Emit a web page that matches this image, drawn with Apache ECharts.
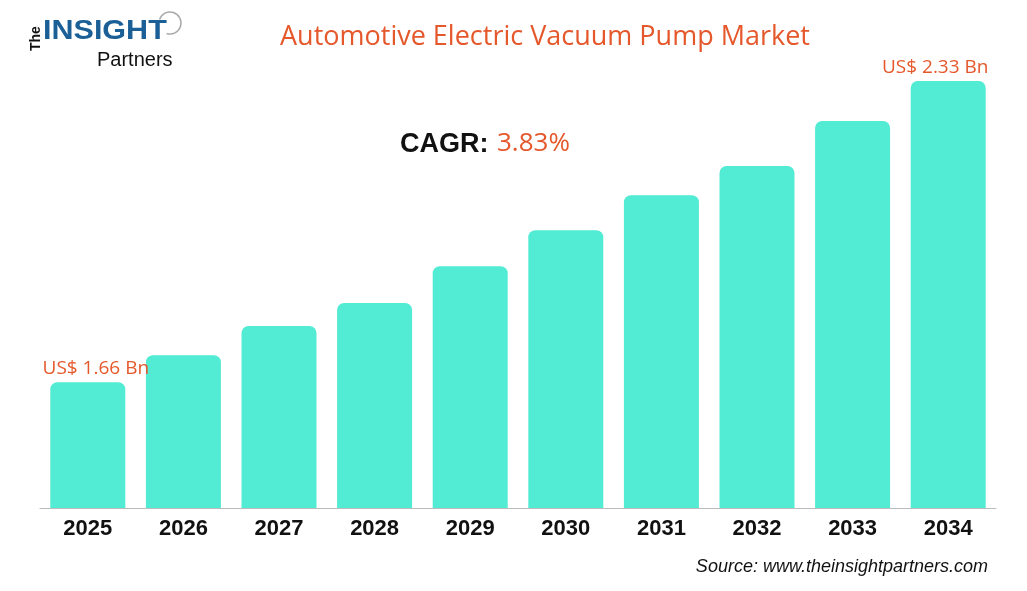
<!DOCTYPE html>
<html>
<head>
<meta charset="utf-8">
<script src="https://cdn.jsdelivr.net/npm/echarts@6/dist/echarts.min.js"></script>
<style>
	html, body { margin: 0; padding: 0; background: #fff; }
	#chart { width: 1027px; height: 591px; }
</style>
</head>
<body>
<div id="chart"></div>
<script>
let years = ["2025", "2026", "2027", "2028", "2029", "2030", "2031", "2032", "2033", "2034"];
let marketSize = [1.66, 1.72, 1.785, 1.836, 1.918, 1.998, 2.076, 2.141, 2.241, 2.33];
let endLabels = ["US$ 1.66 Bn", "", "", "", "", "", "", "", "", "US$ 2.33 Bn"];

let orange = "#E5582B";
let chart = echarts.init(document.getElementById("chart"));

// 只在首尾两根柱子上显示数值
let barData = marketSize.map(function (v, i) {
	let item = { value: v };
	if (endLabels[i]) {
		item.label = {
			show: true,
			position: "top",
			distance: 4,
			offset: [i === 0 ? 8 : -13, 0],
			formatter: endLabels[i],
			color: orange,
			fontSize: 19,
			fontFamily: "Open Sans"
		};
	}
	return item;
});

let option = {
	animation: false,
	backgroundColor: "#fff",
	title: {
		text: "Automotive Electric Vacuum Pump Market",
		left: 540,
		textAlign: "center",
		top: 19,
		textStyle: {
			color: orange,
			fontSize: 27,
			fontWeight: "normal",
			fontFamily: "Open Sans"
		}
	},
	grid: { left: 40, right: 31, top: 81, bottom: 83 },
	xAxis: {
		type: "category",
		data: years,
		axisTick: { show: false },
		axisLine: { lineStyle: { color: "#bbb", width: 1 } },
		axisLabel: {
			color: "#111",
			fontSize: 22,
			fontWeight: "bold",
			fontFamily: "Liberation Sans",
			margin: 10
		}
	},
	yAxis: {
		type: "value",
		min: 1.38,
		max: 2.33,
		show: false,
		splitLine: { show: false }
	},
	series: [{
		type: "bar",
		data: barData,
		barWidth: 75,
		itemStyle: { color: "#52EBD3", borderRadius: [7, 7, 0, 0] }
	}],
	graphic: [
		{
			type: "text",
			left: 400, top: 131,
			style: {
				text: "CAGR:",
				fill: "#111",
				font: "bold 27px 'Liberation Sans'"
			}
		},
		{
			type: "text",
			left: 497, top: 131,
			style: {
				text: "3.83%",
				fill: orange,
				font: "26px 'Open Sans'"
			}
		},
		{
			type: "text",
			right: 39, top: 558,
			style: {
				text: "Source: www.theinsightpartners.com",
				fill: "#111",
				font: "italic 18px 'Liberation Sans'"
			}
		},
		// logo
		{
			type: "text",
			x: 43, y: 51,
			rotation: Math.PI / 2,
			style: {
				text: "The",
				fill: "#111",
				font: "bold 14px 'Liberation Sans'",
				textAlign: "left",
				textVerticalAlign: "bottom"
			}
		},
		{
			type: "text",
			x: 43, y: 17,
			scaleX: 1.09,
			style: {
				text: "INSIGHT",
				fill: "#1B5F97",
				font: "bold 28px 'Liberation Sans'",
				textAlign: "left",
				textVerticalAlign: "top"
			}
		},
		{
			type: "arc",
			shape: { cx: 170, cy: 23, r: 11, startAngle: -Math.PI * 0.9, endAngle: Math.PI * 0.6 },
			style: { fill: "none", stroke: "#aaa", lineWidth: 1.5 }
		},
		{
			type: "text",
			left: 97, top: 50,
			style: {
				text: "Partners",
				fill: "#111",
				font: "20px 'Liberation Sans'"
			}
		}
	]
};

chart.setOption(option);
</script>
</body>
</html>
